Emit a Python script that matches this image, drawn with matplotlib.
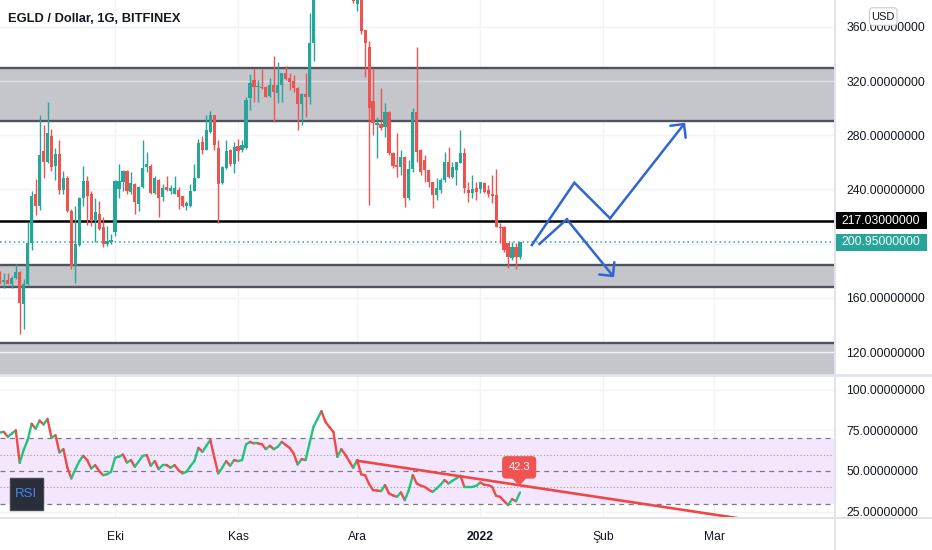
import matplotlib
matplotlib.use("Agg")
import matplotlib.pyplot as plt
import numpy as np
from matplotlib.collections import LineCollection
from matplotlib.patches import Rectangle, FancyBboxPatch, Polygon
from matplotlib.lines import Line2D
from matplotlib.transforms import blended_transform_factory, IdentityTransform

plt.rcParams['font.family'] = ['Liberation Sans', 'DejaVu Sans']

# ---------------- data (daily candles, index 0 = 2 Sep 2021) ----------------
opens = [175.5, 171.5, 173.5, 170.6, 175.0, 179.2, 155.8, 170.1, 200.2, 236.3,
         228.1, 268.1, 260.2, 279.2, 257.0, 266.4, 239.7, 248.6, 223.9, 184.4,
         199.2, 233.8, 246.1, 236.8, 217.0, 222.0, 212.0, 199.7, 200.9, 208.4,
         240.0, 245.4, 254.0, 238.0, 244.2, 229.4, 241.7, 256.5, 257.7, 237.3,
         247.1, 234.8, 241.7, 239.2, 236.8, 239.7, 235.5, 228.1, 228.1, 239.2,
         248.6, 275.0, 269.4, 282.4, 294.8, 270.8, 244.7, 256.0, 269.4, 258.5,
         271.8, 268.9, 270.9, 307.2, 320.7, 315.3, 315.3, 315.3, 308.9, 317.0,
         311.4, 317.0, 325.7, 322.0, 320.2, 314.6, 303.0, 310.4, 308.4, 348.4,
         385.0, 410.0, 455.0, 500.0, 470.0, 445.0, 455.0, 420.0, 430.0, 392.0,
         376.9, 388.0, 357.5, 345.4, 305.0, 287.6, 288.3, 286.4, 297.3, 266.7,
         258.1, 256.9, 264.2, 233.5, 254.9, 297.4, 269.2, 262.0, 254.4, 245.8,
         235.9, 239.6, 247.0, 260.5, 249.5, 254.4, 259.3, 266.7, 239.6, 237.2,
         240.9, 240.1, 245.0, 239.6, 236.7, 235.9, 212.6, 212.6, 200.3, 189.2,
         197.8, 190.4]
highs = [180.0, 178.7, 178.0, 176.0, 185.0, 180.0, 173.8, 215.8, 238.7, 247.9,
         294.8, 287.4, 304.7, 284.9, 270.8, 276.8, 254.0, 249.6, 225.6, 228.1,
         234.3, 257.7, 249.6, 239.2, 233.8, 231.8, 219.5, 213.3, 207.1, 247.1,
         259.0, 254.5, 254.5, 252.8, 244.7, 242.9, 276.8, 267.6, 258.5, 250.3,
         247.9, 243.7, 249.6, 243.3, 249.6, 241.7, 235.5, 231.8, 244.2, 259.0,
         277.5, 279.2, 294.8, 298.0, 294.8, 276.8, 257.0, 276.3, 270.1, 275.0,
         277.5, 276.8, 308.4, 325.2, 329.4, 320.7, 328.6, 316.3, 322.0, 338.5,
         334.3, 326.2, 331.1, 326.2, 324.4, 315.3, 310.9, 325.7, 370.1, 392.0,
         420.0, 470.0, 545.0, 520.0, 490.0, 470.0, 465.0, 440.0, 435.0, 395.0,
         392.0, 390.0, 358.0, 349.9, 329.4, 293.7, 314.7, 304.0, 298.0, 267.9,
         281.4, 269.2, 264.5, 261.8, 300.0, 344.9, 270.0, 265.5, 254.4, 245.8,
         248.2, 248.2, 267.9, 271.6, 260.5, 260.5, 283.9, 270.4, 245.8, 250.7,
         245.8, 245.8, 245.8, 243.3, 250.7, 254.9, 215.0, 213.1, 200.8, 201.6,
         200.8, 201.2]
lows = [170.0, 167.6, 170.0, 167.6, 173.8, 133.5, 136.8, 169.6, 195.3, 221.4,
        224.9, 248.6, 259.5, 254.0, 247.0, 236.8, 236.8, 223.2, 181.2, 171.3,
        198.5, 228.1, 214.0, 213.3, 201.0, 210.1, 197.7, 198.5, 199.7, 205.9,
        233.8, 239.2, 236.8, 236.3, 221.9, 224.4, 241.2, 252.8, 236.8, 236.8,
        220.0, 231.8, 239.2, 236.8, 236.3, 225.6, 227.4, 224.9, 227.4, 239.2,
        248.6, 266.4, 268.9, 281.7, 269.4, 215.0, 244.2, 255.3, 257.7, 252.0,
        261.0, 267.6, 270.1, 298.5, 304.7, 304.7, 313.8, 307.9, 308.4, 289.9,
        303.5, 304.7, 320.7, 313.3, 312.1, 284.2, 287.4, 293.6, 303.0, 335.0,
        382.0, 405.0, 440.0, 450.0, 430.0, 420.0, 410.0, 395.0, 388.0, 378.0,
        372.1, 354.8, 322.8, 228.6, 280.2, 263.0, 284.0, 278.8, 265.5, 255.6,
        249.5, 250.7, 227.3, 232.3, 253.2, 260.5, 250.7, 245.8, 242.1, 226.1,
        232.3, 237.2, 245.8, 248.2, 248.2, 243.3, 259.3, 237.2, 231.0, 233.5,
        232.3, 237.2, 237.2, 234.7, 229.8, 212.6, 200.3, 194.1, 181.8, 188.0,
        181.1, 188.5]
closes = [170.6, 173.5, 170.6, 175.0, 179.2, 156.5, 170.6, 200.2, 235.5, 228.1,
          265.6, 260.2, 281.7, 256.5, 266.4, 239.7, 248.6, 223.9, 183.7, 199.7,
          233.8, 246.1, 235.5, 217.0, 223.2, 210.8, 199.7, 201.7, 202.7, 246.6,
          246.6, 254.0, 239.2, 244.7, 230.6, 241.7, 256.0, 259.0, 237.3, 248.6,
          233.8, 241.2, 239.7, 241.2, 241.2, 234.8, 228.1, 229.9, 239.2, 248.6,
          274.3, 268.9, 283.7, 294.8, 272.6, 244.2, 256.5, 268.4, 258.5, 271.3,
          268.4, 272.6, 306.4, 318.3, 315.3, 316.3, 314.6, 308.4, 317.0, 312.1,
          317.0, 325.7, 321.2, 319.5, 314.6, 303.0, 310.4, 308.4, 348.4, 385.0,
          410.0, 455.0, 500.0, 470.0, 445.0, 455.0, 420.0, 430.0, 392.0, 379.0,
          388.0, 357.3, 347.9, 300.0, 288.8, 288.8, 285.1, 297.3, 266.7, 257.0,
          256.5, 264.2, 233.5, 254.9, 297.4, 267.9, 253.2, 254.4, 245.8, 235.9,
          240.9, 247.0, 260.5, 249.5, 256.9, 260.5, 266.7, 240.9, 237.2, 240.1,
          238.4, 245.8, 238.4, 236.7, 235.2, 212.6, 211.3, 195.3, 190.4, 197.8,
          190.4, 200.95]
rsi = [73.7, 74.0, 71.0, 73.0, 75.0, 55.0, 63.0, 69.0, 79.0, 76.0,
       81.0, 78.6, 82.0, 70.4, 72.0, 61.4, 63.4, 52.0, 45.4, 51.0,
       56.0, 59.3, 56.7, 51.5, 53.6, 50.0, 47.4, 48.0, 49.5, 58.1,
       58.8, 60.1, 55.2, 56.7, 52.6, 56.0, 59.3, 59.8, 53.2, 56.1,
       51.1, 53.6, 53.6, 52.0, 53.6, 50.5, 48.5, 49.5, 53.0, 56.1,
       64.2, 61.8, 65.5, 69.0, 58.5, 48.5, 52.0, 56.1, 53.2, 56.7,
       56.1, 56.7, 66.3, 67.9, 66.9, 66.9, 66.5, 63.4, 65.5, 63.4,
       64.9, 67.9, 66.0, 64.2, 60.8, 54.0, 57.3, 56.7, 67.0, 77.2,
       82.0, 86.8, 80.2, 77.0, 74.0, 58.7, 63.4, 60.0, 56.0, 52.0,
       56.7, 47.9, 47.4, 42.0, 38.2, 38.0, 37.6, 41.3, 36.2, 35.0,
       34.1, 36.8, 32.1, 38.2, 47.4, 42.3, 41.0, 40.2, 38.5, 37.2,
       39.2, 41.5, 44.4, 42.3, 44.0, 45.5, 47.0, 40.2, 40.2, 40.2,
       40.9, 42.9, 41.5, 41.3, 40.2, 34.7, 34.1, 31.5, 29.0, 32.7,
       31.4, 36.8]

month_pos = [29, 60, 90, 121, 152, 180]
month_labels = ['Eki', 'Kas', 'Ara', '2022', 'Şub', 'Mar']
price_ticks = [120, 160, 240, 280, 320, 360]
price_grid = [120, 160, 200, 240, 280, 320, 360]
rsi_ticks = [100, 75, 50, 25]
zones = [(290.8, 329.4), (168.3, 184.5), (60.0, 126.6)]
resistance = 217.03
last_price = 200.95
up_path_x = [134.0, 144.7, 153.7, 172.6]
up_path_y = [199.0, 245.0, 218.7, 289.3]
down_path_x = [135.9, 142.8, 154.7]
down_path_y = [199.8, 218.0, 175.2]
trend_x = [90, 131]
trend_y = [56.3, 41.2]
trend_label = '42.3'

# ---------------- layout ----------------
W, H = 932, 550
main_bot, rsi_bot, plot_right = 374.7, 517.5, 834.0
fig = plt.figure(figsize=(W / 100, H / 100), dpi=100)
fig.patch.set_facecolor('white')
ax = fig.add_axes([0, 1 - main_bot / H, plot_right / W, main_bot / H])
ax2 = fig.add_axes([0, 1 - rsi_bot / H, plot_right / W, (rsi_bot - main_bot) / H])
XL = (0.03, 210.1)
GRID = '#f0f3fa'
TXT = '#131722'
UP, DN = '#26a69a', '#ef5350'
BLUE = '#2f66d4'

for a in (ax, ax2):
    for s in a.spines.values():
        s.set_visible(False)
    for m in month_pos:
        a.axvline(m, color=GRID, lw=1, zorder=0)

# ---------------- main pane ----------------
for lo, hi in zones:
    ax.axhspan(lo, hi, color='#c5c6cb', lw=0, zorder=1)
for p in price_grid:
    ax.axhline(p, color='#f0f3fa', lw=1, zorder=1.2, alpha=0.55 if p == 320 else 1)
for lo, hi in zones:
    ax.axhline(lo, color='#50535e', lw=1.7, zorder=2)
    ax.axhline(hi, color='#50535e', lw=1.7, zorder=2)
ax.axhline(resistance, color='black', lw=1.8, zorder=2)
ax.axhline(last_price, color=UP, lw=1.1, ls=(0, (1, 2)), zorder=2)

O = np.array(opens); Hh = np.array(highs); L = np.array(lows); C = np.array(closes)
idx = np.arange(len(C))
cols = np.where(C >= O, UP, DN)
ax.vlines(idx, L, Hh, colors=cols, lw=1.0, zorder=3)
ax.bar(idx, np.maximum(np.abs(C - O), 0.7), bottom=np.minimum(O, C), width=0.8,
       color=cols, lw=0, zorder=4)

ax.plot(up_path_x[:-1], up_path_y[:-1], color=BLUE, lw=1.8, zorder=6, solid_joinstyle='miter')
ax.annotate('', xy=(up_path_x[-1], up_path_y[-1]), xytext=(up_path_x[-2], up_path_y[-2]),
            arrowprops=dict(arrowstyle='->,head_length=0.5,head_width=0.5', color=BLUE, lw=1.8,
                            mutation_scale=14, shrinkA=0, shrinkB=0), zorder=6)
ax.plot(down_path_x[:-1], down_path_y[:-1], color=BLUE, lw=1.8, zorder=6, solid_joinstyle='miter')
ax.annotate('', xy=(down_path_x[-1], down_path_y[-1]), xytext=(down_path_x[-2], down_path_y[-2]),
            arrowprops=dict(arrowstyle='->,head_length=0.5,head_width=0.5', color=BLUE, lw=1.8,
                            mutation_scale=14, shrinkA=0, shrinkB=0), zorder=6)

ax.yaxis.tick_right()
ax.set_yticks(price_ticks)
ax.set_yticklabels([f'{p:.8f}' for p in price_ticks])
ax.tick_params(axis='y', length=0, pad=9, labelsize=8.7, labelcolor=TXT)
ax.set_xticks([])

tr = blended_transform_factory(ax.transAxes, ax.transData)
bh = 17.5 / 1.355
for val, fc in ((resistance, 'black'), (last_price, UP)):
    ax.add_patch(Rectangle((1.0012, val - bh / 2), 0.1103, bh, transform=tr, fc=fc, ec='none',
                           clip_on=False, zorder=10))
    ax.text(1.0565, val, f'{val:.8f}', transform=tr, ha='center', va='center', color='white',
            fontsize=8.7, clip_on=False, zorder=11)
ax.set_xlim(*XL)
ax.set_ylim(103.3, 379.85)

# ---------------- RSI pane ----------------
ax2.axhspan(30, 70, color='#f4e7fd', lw=0, zorder=0.5)
for v in (100, 75, 25):
    ax2.axhline(v, color=GRID, lw=1, zorder=0.6)
for v in (70, 50, 30):
    ax2.axhline(v, color='#787b86', lw=0.9, ls=(0, (4, 3.5)), zorder=1)
for v in (60, 40):
    ax2.axhline(v, color='#9598a1', lw=0.8, ls=(0, (1, 2)), zorder=1)

R = np.array(rsi)
pts = np.column_stack([idx, R])
segs = np.stack([pts[:-1], pts[1:]], axis=1)
seg_cols = np.where(np.diff(R) >= 0, '#22c47a', '#f24848')
ax2.add_collection(LineCollection(segs, colors=seg_cols, lw=1.7, zorder=3, capstyle='round'))

slope = (trend_y[1] - trend_y[0]) / (trend_x[1] - trend_x[0])
tx_end = 215
ax2.plot([trend_x[0], tx_end], [trend_y[0], trend_y[0] + slope * (tx_end - trend_x[0])],
         color='#f04646', lw=1.9, zorder=4)

lab_x = 130.8
ax2.text(lab_x, 52.2, trend_label, ha='center', va='center', color='white', fontsize=8,
         zorder=8, bbox=dict(boxstyle='round,pad=0.5,rounding_size=0.3', fc='#f05352', ec='#f05352'))
ax2.add_patch(Polygon([[lab_x - 1.9, 45.8], [lab_x + 1.9, 45.8], [lab_x, 40.9]], closed=True,
                      fc='#f05352', ec='none', zorder=8))

ax2.yaxis.tick_right()
ax2.set_yticks(rsi_ticks)
ax2.set_yticklabels([f'{v:.8f}' for v in rsi_ticks])
ax2.tick_params(axis='y', length=0, pad=9, labelsize=8.7, labelcolor=TXT)
ax2.set_xticks(month_pos)
ax2.set_xticklabels(month_labels)
ax2.tick_params(axis='x', length=0, pad=9.5, labelsize=8.7, labelcolor=TXT)
ax2.get_xticklabels()[3].set_fontweight('bold')
ax2.set_xlim(*XL)
ax2.set_ylim(21.4, 109.2)

# ---------------- chrome ----------------
I = IdentityTransform()
def hline(y, x0=0, x1=W, c='#e0e3eb', lw=1.4):
    fig.add_artist(Line2D([x0, x1], [H - y, H - y], transform=I, color=c, lw=lw, zorder=5))
hline(375.2, lw=2.0)
hline(518.0)
fig.add_artist(Line2D([plot_right + 0.5] * 2, [0, H], transform=I, color='#e0e3eb', lw=1.4, zorder=5))

fig.add_artist(Rectangle((9.6, H - 510.3), 33.4, 32, transform=I, fc='#2a2e39', ec='#434651',
                         lw=1, zorder=6))
fig.text(26.3 / W, 1 - 494.3 / H, 'RSI', ha='center', va='center', color='#4b86f0', fontsize=9.5,
         zorder=7)

fig.add_artist(FancyBboxPatch((869.5, H - 25.3), 27.5, 17.5, boxstyle='round,pad=0,rounding_size=3',
                              transform=I, fc='white', ec='#c9cbd1', lw=0.8, zorder=8))
fig.text(883.2 / W, 1 - 16.5 / H, 'USD', ha='center', va='center', color=TXT, fontsize=8, zorder=9)

fig.text(8 / W, 1 - 19 / H, 'EGLD / Dollar, 1G, BITFINEX', ha='left', va='center', color=TXT,
         fontsize=9.3, fontweight='bold', zorder=9)

fig.savefig('out.png', dpi=100)
